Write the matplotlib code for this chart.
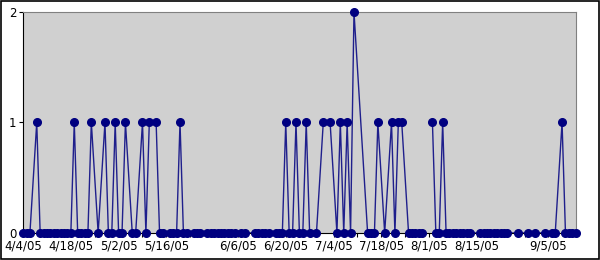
import numpy as np
import pandas as pd
import matplotlib
matplotlib.use("Agg")
import matplotlib.pyplot as plt
from matplotlib.patches import Rectangle

april_dates = ['4/4/05', '4/5/05', '4/6/05', '4/8/05', '4/9/05', '4/10/05', '4/11/05', '4/12/05',
               '4/13/05', '4/14/05', '4/15/05', '4/16/05', '4/17/05', '4/18/05', '4/19/05', '4/20/05',
               '4/21/05', '4/22/05', '4/23/05', '4/24/05', '4/26/05', '4/28/05', '4/29/05', '4/30/05']
april_vals = [0, 0, 0, 1, 0, 0, 0, 0, 0, 0, 0, 0, 0, 0, 1, 0, 0, 0, 0, 1, 0, 1, 0, 0]

may_dates = ['5/1/05', '5/2/05', '5/3/05', '5/4/05', '5/6/05', '5/7/05', '5/9/05', '5/10/05',
             '5/11/05', '5/13/05', '5/14/05', '5/15/05', '5/17/05', '5/18/05', '5/19/05', '5/20/05',
             '5/21/05', '5/22/05', '5/24/05', '5/25/05', '5/26/05', '5/28/05', '5/29/05', '5/30/05',
             '5/31/05']
may_vals = [1, 0, 0, 1, 0, 0, 1, 0, 1, 1, 0, 0, 0, 0, 0, 1, 0, 0, 0, 0, 0, 0, 0, 0, 0]

june_dates = ['6/1/05', '6/2/05', '6/3/05', '6/4/05', '6/5/05', '6/7/05', '6/8/05', '6/11/05',
              '6/12/05', '6/13/05', '6/14/05', '6/15/05', '6/17/05', '6/18/05', '6/19/05', '6/20/05',
              '6/21/05', '6/22/05', '6/23/05', '6/24/05', '6/25/05', '6/26/05', '6/27/05', '6/29/05']
june_vals = [0, 0, 0, 0, 0, 0, 0, 0, 0, 0, 0, 0, 0, 0, 0, 1, 0, 0, 1, 0, 0, 1, 0, 0]

july_dates = ['7/1/05', '7/3/05', '7/5/05', '7/6/05', '7/7/05', '7/8/05', '7/9/05', '7/10/05',
              '7/14/05', '7/15/05', '7/16/05', '7/17/05', '7/19/05', '7/21/05', '7/22/05', '7/23/05',
              '7/24/05', '7/26/05', '7/27/05', '7/28/05', '7/29/05', '7/30/05']
july_vals = [1, 1, 0, 1, 0, 1, 0, 2, 0, 0, 0, 1, 0, 1, 0, 1, 1, 0, 0, 0, 0, 0]

# 8/1 has no value: the line is broken there
aug_dates = ['8/1/05', '8/2/05', '8/3/05', '8/4/05', '8/5/05', '8/6/05', '8/7/05', '8/8/05', '8/9/05',
             '8/10/05', '8/11/05', '8/12/05', '8/13/05', '8/16/05', '8/17/05', '8/18/05', '8/19/05',
             '8/20/05', '8/21/05', '8/22/05', '8/23/05', '8/24/05', '8/27/05', '8/30/05']
aug_vals = [np.nan, 1, 0, 0, 1, 0, 0, 0, 0, 0, 0, 0, 0, 0, 0, 0, 0, 0, 0, 0, 0, 0, 0, 0]

sep_dates = ['9/1/05', '9/4/05', '9/6/05', '9/7/05', '9/9/05', '9/10/05', '9/11/05', '9/12/05', '9/13/05']
sep_vals = [0, 0, 0, 0, 1, 0, 0, 0, 0]

tick_labels = ['4/4/05', '4/18/05', '5/2/05', '5/16/05', '6/6/05', '6/20/05', '7/4/05',
               '7/18/05', '8/1/05', '8/15/05', '9/5/05']
y_ticks = [0, 1, 2]

dates = pd.to_datetime(april_dates + may_dates + june_dates + july_dates + aug_dates + sep_dates,
                       format='%m/%d/%y')
values = april_vals + may_vals + june_vals + july_vals + aug_vals + sep_vals

plt.rcParams['font.family'] = ['DejaVu Sans']
fig = plt.figure(figsize=(6, 2.6), dpi=100)
fig.patch.set_facecolor('white')
fig.patches.append(Rectangle((0.001, 0.002), 0.997, 0.995, transform=fig.transFigure,
                             fill=False, edgecolor='black', linewidth=1.2))

ax = fig.add_axes([0.0385, 0.104, 0.921, 0.850])
ax.set_facecolor('#D0D0D0')
ax.plot(dates, values, color='#000080', linewidth=1.0, alpha=0.85, clip_on=False, zorder=2)
ax.plot(dates, values, linestyle='none', marker='o', markersize=5.5, color='#000080',
        clip_on=False, zorder=3)

ax.set_xlim(dates[0], dates[-1])
ax.set_ylim(0, 2)

# weekly tick marks, labels only on some of them
weeks = pd.date_range(dates[0], dates[-1], freq='7D')
lab_dates = set(pd.to_datetime(tick_labels, format='%m/%d/%y'))
ax.set_xticks(weeks)
ax.set_xticklabels([f'{d.month}/{d.day}/05' if d in lab_dates else '' for d in weeks])
ax.set_yticks(y_ticks)
ax.set_yticklabels([str(v) for v in y_ticks])
ax.tick_params(axis='both', direction='out', length=3, width=0.8, labelsize=8.5,
               colors='black', pad=2)

for side in ['top', 'right']:
    ax.spines[side].set_color('#808080')
    ax.spines[side].set_linewidth(0.8)
for side in ['left', 'bottom']:
    ax.spines[side].set_color('black')
    ax.spines[side].set_linewidth(0.8)

fig.savefig('out.png', dpi=100)
